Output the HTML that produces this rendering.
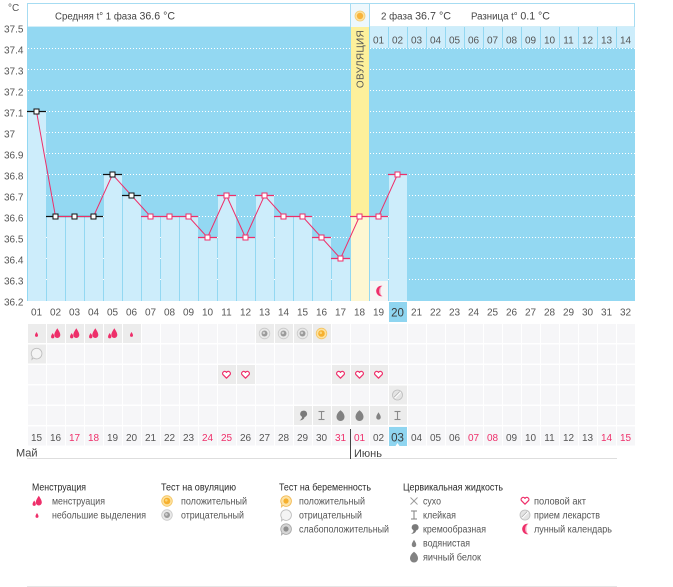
<!DOCTYPE html>
<html><head><meta charset="utf-8"><style>
html,body{margin:0;padding:0;background:#fff;}
svg{display:block;font-family:"Liberation Sans","DejaVu Sans",sans-serif;}
</style></head><body>
<svg width="673" height="587" viewBox="0 0 673 587" xmlns="http://www.w3.org/2000/svg">
<defs>
<path id="drop" d="M0,-5 C1.5,-2.5 3,-0.6 3,1.8 A3,3 0 0 1 -3,1.8 C-3,-0.6 -1.5,-2.5 0,-5Z"/>
<g id="mbig"><use href="#drop" transform="translate(1.8,-0.3) scale(1)" fill="#ee2f6a"/><use href="#drop" transform="translate(-2.8,2.2) scale(0.55)" fill="#ee2f6a"/></g>
<g id="msmall"><use href="#drop" transform="scale(0.5)" fill="#ee2f6a"/></g>
<g id="ovneg"><circle r="5.3" fill="#e9e9e9" stroke="#c9c9c9" stroke-width="0.8"/><circle r="3" fill="#9a9a9a"/><circle r="1.3" cx="-0.6" cy="-0.6" fill="#d0d0d0"/></g>
<g id="ovpos"><circle r="5.3" fill="#fde2a0" stroke="#f4c460" stroke-width="0.8"/><circle r="3.3" fill="#f6b02e"/><circle r="1.3" cx="-0.7" cy="-0.7" fill="#fbd57a"/></g>
<g id="heart"><path d="M0,3.2 L-3.6,-0.4 A1.9,1.9 0 0 1 0,-2.6 A1.9,1.9 0 0 1 3.6,-0.4 Z" fill="#fff" stroke="#ee2f6a" stroke-width="1.2" stroke-linejoin="round"/></g>
<g id="pill"><circle r="5" fill="#e4e4e4" stroke="#bdbdbd" stroke-width="0.8"/><line x1="-3" y1="3" x2="3" y2="-3" stroke="#fff" stroke-width="1.4"/><line x1="-3.4" y1="2.2" x2="2.2" y2="-3.4" stroke="#a8a8a8" stroke-width="0.7"/></g>
<g id="moon"><path d="M2.5,-5.2 A5.3,5.3 0 1 0 2.5,5.2 A4.2,5.3 0 0 1 2.5,-5.2Z" fill="#ee2f6a"/><path d="M2.5,-5.2 A4.2,5.3 0 0 0 2.5,5.2 A4,5 0 0 1 0.5,0 A4,5 0 0 1 2.5,-5.2Z" fill="#f89ab5"/></g>
<g id="comma"><path d="M0.5,-4.8 A3.2,3.2 0 1 1 2.2,1.5 Q1.5,4.5 -3,5 Q0,2.8 -0.6,1.2 A3.2,3.2 0 0 1 0.5,-4.8Z" fill="#7a7a7a"/></g>
<g id="ibeam" stroke="#8a8a8a" stroke-width="1.1" fill="none"><line x1="-3" y1="-4" x2="3" y2="-4"/><line x1="0" y1="-4" x2="0" y2="4"/><line x1="-3" y1="4" x2="3" y2="4"/></g>
<g id="gdropbig"><path d="M0,-5.3 C2.5,-3.5 4,-1 4,1.5 A4,4 0 0 1 -4,1.5 C-4,-1 -2.5,-3.5 0,-5.3Z" fill="#828282"/></g>
<g id="gdropsmall"><use href="#drop" transform="scale(0.75)" fill="#828282"/></g>
<g id="xdry" stroke="#9a9a9a" stroke-width="0.9"><line x1="-3.5" y1="-3.5" x2="3.5" y2="3.5"/><line x1="-3.5" y1="3.5" x2="3.5" y2="-3.5"/></g>
<g id="pgneg"><path d="M0,-5.2 A5.3,5.3 0 1 1 -3,4.4 L-4.5,5.8 L-4.2,3.2 A5.3,5.3 0 0 1 0,-5.2Z" fill="#f4f4f4" stroke="#bdbdbd" stroke-width="0.9"/></g>
<g id="pgpos"><path d="M0,-5.2 A5.3,5.3 0 1 1 -3,4.4 L-4.5,5.8 L-4.2,3.2 A5.3,5.3 0 0 1 0,-5.2Z" fill="#fde3a6" stroke="#f2ba55" stroke-width="0.9"/><circle r="2.6" fill="#f6b02e"/></g>
<g id="pgweak"><path d="M0,-5.2 A5.3,5.3 0 1 1 -3,4.4 L-4.5,5.8 L-4.2,3.2 A5.3,5.3 0 0 1 0,-5.2Z" fill="#d6d6d6" stroke="#a9a9a9" stroke-width="0.9"/><circle r="2.6" fill="#8f8f8f"/></g>
<pattern id="cells" patternUnits="userSpaceOnUse" x="27" y="324" width="19" height="20.5"><rect x="1" y="0" width="18" height="19" fill="#f6f6f8"/></pattern>
</defs>

<!-- header -->
<rect x="27.5" y="3.5" width="607" height="23.5" fill="#fff" stroke="#a6dcf2" stroke-width="1"/>
<rect x="351" y="4" width="18" height="23" fill="#eef8fd"/>
<line x1="350.5" y1="3.5" x2="350.5" y2="27" stroke="#a6dcf2"/>
<line x1="369.5" y1="3.5" x2="369.5" y2="27" stroke="#a6dcf2"/>
<g transform="translate(360,16)"><circle r="5" fill="#fde3a0" stroke="#f5cc72" stroke-width="0.8"/><circle r="3.2" fill="#f7b33a"/></g>
<g font-size="10" fill="#444">
<text x="55" y="19.5" textLength="120" lengthAdjust="spacingAndGlyphs">Средняя t° 1 фаза <tspan font-size="11">36.6 °C</tspan></text>
<text x="381" y="19.5" textLength="70" lengthAdjust="spacingAndGlyphs">2 фаза <tspan font-size="11">36.7 °C</tspan></text>
<text x="471" y="19.5" textLength="79" lengthAdjust="spacingAndGlyphs">Разница t° <tspan font-size="11">0.1 °C</tspan></text>
</g>

<!-- chart bg -->
<rect x="27" y="27" width="608" height="274" fill="#93d8f2"/>
<g stroke="#fff" stroke-width="1" stroke-dasharray="1 2">
<line x1="28" y1="48.5" x2="635" y2="48.5"/>
<line x1="28" y1="69.5" x2="635" y2="69.5"/>
<line x1="28" y1="90.5" x2="635" y2="90.5"/>
<line x1="28" y1="111.5" x2="635" y2="111.5"/>
<line x1="28" y1="132.5" x2="635" y2="132.5"/>
<line x1="28" y1="153.5" x2="635" y2="153.5"/>
<line x1="28" y1="174.5" x2="635" y2="174.5"/>
<line x1="28" y1="195.5" x2="635" y2="195.5"/>
<line x1="28" y1="216.5" x2="635" y2="216.5"/>
<line x1="28" y1="237.5" x2="635" y2="237.5"/>
<line x1="28" y1="258.5" x2="635" y2="258.5"/>
<line x1="28" y1="279.5" x2="635" y2="279.5"/>
</g>

<!-- phase 2 top row -->
<g fill="#cdedfb">
<rect x="370" y="27" width="18" height="21"/><rect x="389" y="27" width="18" height="21"/><rect x="408" y="27" width="18" height="21"/><rect x="427" y="27" width="18" height="21"/><rect x="446" y="27" width="18" height="21"/><rect x="465" y="27" width="18" height="21"/><rect x="484" y="27" width="18" height="21"/><rect x="503" y="27" width="18" height="21"/><rect x="522" y="27" width="18" height="21"/><rect x="541" y="27" width="18" height="21"/><rect x="560" y="27" width="18" height="21"/><rect x="579" y="27" width="18" height="21"/><rect x="598" y="27" width="18" height="21"/><rect x="617" y="27" width="18" height="21"/>
</g>
<g font-size="10" fill="#555" text-anchor="middle">
<text x="378.5" y="43.5">01</text><text x="397.5" y="43.5">02</text><text x="416.5" y="43.5">03</text><text x="435.5" y="43.5">04</text><text x="454.5" y="43.5">05</text><text x="473.5" y="43.5">06</text><text x="492.5" y="43.5">07</text><text x="511.5" y="43.5">08</text><text x="530.5" y="43.5">09</text><text x="549.5" y="43.5">10</text><text x="568.5" y="43.5">11</text><text x="587.5" y="43.5">12</text><text x="606.5" y="43.5">13</text><text x="625.5" y="43.5">14</text>
</g>

<!-- ovulation band -->
<rect x="351" y="27" width="18" height="190" fill="#fdf09b"/>
<text transform="translate(363.5,59) rotate(-90)" font-size="10" fill="#555" text-anchor="middle" letter-spacing="0.3">ОВУЛЯЦИЯ</text>

<!-- bars -->
<g fill="#cdedfb">
<rect x="28" y="111.5" width="18" height="189.5"/>
<rect x="47" y="216.5" width="18" height="84.5"/>
<rect x="66" y="216.5" width="18" height="84.5"/>
<rect x="85" y="216.5" width="18" height="84.5"/>
<rect x="104" y="174.5" width="18" height="126.5"/>
<rect x="123" y="195.5" width="18" height="105.5"/>
<rect x="142" y="216.5" width="18" height="84.5"/>
<rect x="161" y="216.5" width="18" height="84.5"/>
<rect x="180" y="216.5" width="18" height="84.5"/>
<rect x="199" y="237.5" width="18" height="63.5"/>
<rect x="218" y="195.5" width="18" height="105.5"/>
<rect x="237" y="237.5" width="18" height="63.5"/>
<rect x="256" y="195.5" width="18" height="105.5"/>
<rect x="275" y="216.5" width="18" height="84.5"/>
<rect x="294" y="216.5" width="18" height="84.5"/>
<rect x="313" y="237.5" width="18" height="63.5"/>
<rect x="332" y="258.5" width="18" height="42.5"/>
<rect x="370" y="216.5" width="18" height="84.5"/>
<rect x="389" y="174.5" width="18" height="126.5"/>
</g>
<rect x="351" y="216.5" width="18" height="84.5" fill="#fdf7d2"/>
<rect x="370" y="281" width="18" height="20" fill="#f5f5f5"/>
<use href="#moon" transform="translate(380,291)"/>

<!-- value lines -->
<g stroke="#111" stroke-width="1.2">
<line x1="27" y1="111.5" x2="46" y2="111.5"/>
<line x1="46" y1="216.5" x2="65" y2="216.5"/>
<line x1="65" y1="216.5" x2="84" y2="216.5"/>
<line x1="84" y1="216.5" x2="103" y2="216.5"/>
<line x1="103" y1="174.5" x2="122" y2="174.5"/>
<line x1="122" y1="195.5" x2="141" y2="195.5"/>
</g>
<g stroke="#ee2f6a" stroke-width="1.2">
<line x1="141" y1="216.5" x2="160" y2="216.5"/>
<line x1="160" y1="216.5" x2="179" y2="216.5"/>
<line x1="179" y1="216.5" x2="198" y2="216.5"/>
<line x1="198" y1="237.5" x2="217" y2="237.5"/>
<line x1="217" y1="195.5" x2="236" y2="195.5"/>
<line x1="236" y1="237.5" x2="255" y2="237.5"/>
<line x1="255" y1="195.5" x2="274" y2="195.5"/>
<line x1="274" y1="216.5" x2="293" y2="216.5"/>
<line x1="293" y1="216.5" x2="312" y2="216.5"/>
<line x1="312" y1="237.5" x2="331" y2="237.5"/>
<line x1="331" y1="258.5" x2="350" y2="258.5"/>
<line x1="350" y1="216.5" x2="369" y2="216.5"/>
<line x1="369" y1="216.5" x2="388" y2="216.5"/>
<line x1="388" y1="174.5" x2="407" y2="174.5"/>
</g>
<polyline fill="none" stroke="#ee2f6a" stroke-width="1" points="36.5,111.5 55.5,216.5 74.5,216.5 93.5,216.5 112.5,174.5 131.5,195.5 150.5,216.5 169.5,216.5 188.5,216.5 207.5,237.5 226.5,195.5 245.5,237.5 264.5,195.5 283.5,216.5 302.5,216.5 321.5,237.5 340.5,258.5 359.5,216.5 378.5,216.5 397.5,174.5"/>
<g fill="#fff" stroke="#111" stroke-width="1">
<rect x="34" y="109" width="5" height="5"/>
<rect x="53" y="214" width="5" height="5"/>
<rect x="72" y="214" width="5" height="5"/>
<rect x="91" y="214" width="5" height="5"/>
<rect x="110" y="172" width="5" height="5"/>
<rect x="129" y="193" width="5" height="5"/>
</g>
<g fill="#fff" stroke="#ee2f6a" stroke-width="1">
<rect x="148" y="214" width="5" height="5"/>
<rect x="167" y="214" width="5" height="5"/>
<rect x="186" y="214" width="5" height="5"/>
<rect x="205" y="235" width="5" height="5"/>
<rect x="224" y="193" width="5" height="5"/>
<rect x="243" y="235" width="5" height="5"/>
<rect x="262" y="193" width="5" height="5"/>
<rect x="281" y="214" width="5" height="5"/>
<rect x="300" y="214" width="5" height="5"/>
<rect x="319" y="235" width="5" height="5"/>
<rect x="338" y="256" width="5" height="5"/>
<rect x="357" y="214" width="5" height="5"/>
<rect x="376" y="214" width="5" height="5"/>
<rect x="395" y="172" width="5" height="5"/>
</g>

<!-- y axis -->
<g font-size="10" fill="#555">
<text x="8" y="11">°C</text>
<text x="4" y="32.5">37.5</text>
<text x="4" y="53.5">37.4</text>
<text x="4" y="74.5">37.3</text>
<text x="4" y="95.5">37.2</text>
<text x="4" y="116.5">37.1</text>
<text x="4" y="137.5">37</text>
<text x="4" y="158.5">36.9</text>
<text x="4" y="179.5">36.8</text>
<text x="4" y="200.5">36.7</text>
<text x="4" y="221.5">36.6</text>
<text x="4" y="242.5">36.5</text>
<text x="4" y="263.5">36.4</text>
<text x="4" y="284.5">36.3</text>
<text x="4" y="305.5">36.2</text>
</g>

<!-- x labels -->
<rect x="389" y="302" width="18" height="20" fill="#8fd5f0"/>
<g font-size="10" fill="#555" text-anchor="middle">
<text x="36.5" y="315.5">01</text><text x="55.5" y="315.5">02</text><text x="74.5" y="315.5">03</text><text x="93.5" y="315.5">04</text><text x="112.5" y="315.5">05</text><text x="131.5" y="315.5">06</text><text x="150.5" y="315.5">07</text><text x="169.5" y="315.5">08</text><text x="188.5" y="315.5">09</text><text x="207.5" y="315.5">10</text><text x="226.5" y="315.5">11</text><text x="245.5" y="315.5">12</text><text x="264.5" y="315.5">13</text><text x="283.5" y="315.5">14</text><text x="302.5" y="315.5">15</text><text x="321.5" y="315.5">16</text><text x="340.5" y="315.5">17</text><text x="359.5" y="315.5">18</text><text x="378.5" y="315.5">19</text><text x="397.5" y="316.5" font-size="11.5" fill="#3a3a3a">20</text><text x="416.5" y="315.5">21</text><text x="435.5" y="315.5">22</text><text x="454.5" y="315.5">23</text><text x="473.5" y="315.5">24</text><text x="492.5" y="315.5">25</text><text x="511.5" y="315.5">26</text><text x="530.5" y="315.5">27</text><text x="549.5" y="315.5">28</text><text x="568.5" y="315.5">29</text><text x="587.5" y="315.5">30</text><text x="606.5" y="315.5">31</text><text x="625.5" y="315.5">32</text>
</g>

<!-- icon grid -->
<rect x="27" y="324" width="608" height="122" fill="url(#cells)"/>
<g fill="#ececec">
<rect x="28" y="324" width="18" height="19"/><rect x="47" y="324" width="18" height="19"/><rect x="66" y="324" width="18" height="19"/><rect x="85" y="324" width="18" height="19"/><rect x="104" y="324" width="18" height="19"/><rect x="123" y="324" width="18" height="19"/>
<rect x="256" y="324" width="18" height="19"/><rect x="275" y="324" width="18" height="19"/><rect x="294" y="324" width="18" height="19"/><rect x="313" y="324" width="18" height="19"/>
<rect x="28" y="344.5" width="18" height="19"/>
<rect x="218" y="365" width="18" height="19"/><rect x="237" y="365" width="18" height="19"/><rect x="332" y="365" width="18" height="19"/><rect x="351" y="365" width="18" height="19"/><rect x="370" y="365" width="18" height="19"/>
<rect x="389" y="385.5" width="18" height="19"/>
<rect x="294" y="406" width="18" height="19"/><rect x="313" y="406" width="18" height="19"/><rect x="332" y="406" width="18" height="19"/><rect x="351" y="406" width="18" height="19"/><rect x="370" y="406" width="18" height="19"/><rect x="389" y="406" width="18" height="19"/>
</g>
<use href="#msmall" transform="translate(36.5,334.5)"/>
<use href="#mbig" transform="translate(55.5,333.5)"/>
<use href="#mbig" transform="translate(74.5,333.5)"/>
<use href="#mbig" transform="translate(93.5,333.5)"/>
<use href="#mbig" transform="translate(112.5,333.5)"/>
<use href="#msmall" transform="translate(131.5,334.5)"/>
<use href="#ovneg" transform="translate(264.5,333.5)"/>
<use href="#ovneg" transform="translate(283.5,333.5)"/>
<use href="#ovneg" transform="translate(302.5,333.5)"/>
<use href="#ovpos" transform="translate(321.5,333.5)"/>
<use href="#pgneg" transform="translate(36.5,353.5)"/>
<use href="#heart" transform="translate(226.5,375)"/>
<use href="#heart" transform="translate(245.5,375)"/>
<use href="#heart" transform="translate(340.5,375)"/>
<use href="#heart" transform="translate(359.5,375)"/>
<use href="#heart" transform="translate(378.5,375)"/>
<use href="#pill" transform="translate(397.5,395)"/>
<use href="#comma" transform="translate(302.5,415.5)"/>
<use href="#ibeam" transform="translate(321.5,415.5)"/>
<use href="#gdropbig" transform="translate(340.5,415.5)"/>
<use href="#gdropbig" transform="translate(359.5,415.5)"/>
<use href="#gdropsmall" transform="translate(378.5,416)"/>
<use href="#ibeam" transform="translate(397.5,415.5)"/>

<!-- dates -->
<rect x="389" y="427" width="18" height="19" fill="#8fd5f0"/>
<path d="M397.5,443 L395.5,446 L399.5,446Z" fill="#fff"/>
<g font-size="10" fill="#555" text-anchor="middle">
<text x="36.5" y="441">15</text><text x="55.5" y="441">16</text><text x="74.5" y="441" fill="#ee2f6a">17</text><text x="93.5" y="441" fill="#ee2f6a">18</text><text x="112.5" y="441">19</text><text x="131.5" y="441">20</text><text x="150.5" y="441">21</text><text x="169.5" y="441">22</text><text x="188.5" y="441">23</text><text x="207.5" y="441" fill="#ee2f6a">24</text><text x="226.5" y="441" fill="#ee2f6a">25</text><text x="245.5" y="441">26</text><text x="264.5" y="441">27</text><text x="283.5" y="441">28</text><text x="302.5" y="441">29</text><text x="321.5" y="441">30</text><text x="340.5" y="441" fill="#ee2f6a">31</text><text x="359.5" y="441" fill="#ee2f6a">01</text><text x="378.5" y="441">02</text><text x="397.5" y="441.5" font-size="11.5" fill="#3a3a3a">03</text><text x="416.5" y="441">04</text><text x="435.5" y="441">05</text><text x="454.5" y="441">06</text><text x="473.5" y="441" fill="#ee2f6a">07</text><text x="492.5" y="441" fill="#ee2f6a">08</text><text x="511.5" y="441">09</text><text x="530.5" y="441">10</text><text x="549.5" y="441">11</text><text x="568.5" y="441">12</text><text x="587.5" y="441">13</text><text x="606.5" y="441" fill="#ee2f6a">14</text><text x="625.5" y="441" fill="#ee2f6a">15</text>
</g>
<line x1="27" y1="458.5" x2="617" y2="458.5" stroke="#dedede"/>
<line x1="350.5" y1="429" x2="350.5" y2="459" stroke="#444"/>
<g font-size="11" fill="#444">
<text x="16" y="456.5">Май</text>
<text x="354" y="457">Июнь</text>
</g>

<!-- legend -->
<g font-size="10" fill="#2a2a2a" lengthAdjust="spacingAndGlyphs">
<text x="32" y="490.5" textLength="54" lengthAdjust="spacingAndGlyphs">Менструация</text>
<text x="161" y="490.5" textLength="75" lengthAdjust="spacingAndGlyphs">Тест на овуляцию</text>
<text x="279" y="490.5" textLength="92" lengthAdjust="spacingAndGlyphs">Тест на беременность</text>
<text x="403" y="490.5" textLength="100" lengthAdjust="spacingAndGlyphs">Цервикальная жидкость</text>
</g>
<g font-size="10" fill="#555">
<text x="52" y="504.5" textLength="53" lengthAdjust="spacingAndGlyphs">менструация</text>
<text x="52" y="518.5" textLength="94" lengthAdjust="spacingAndGlyphs">небольшие выделения</text>
<text x="181" y="504.5" textLength="66" lengthAdjust="spacingAndGlyphs">положительный</text>
<text x="181" y="518.5" textLength="63" lengthAdjust="spacingAndGlyphs">отрицательный</text>
<text x="299" y="504.5" textLength="66" lengthAdjust="spacingAndGlyphs">положительный</text>
<text x="299" y="518.5" textLength="63" lengthAdjust="spacingAndGlyphs">отрицательный</text>
<text x="299" y="532.5" textLength="90" lengthAdjust="spacingAndGlyphs">слабоположительный</text>
<text x="423" y="504.5" textLength="18" lengthAdjust="spacingAndGlyphs">сухо</text>
<text x="423" y="518.5" textLength="33" lengthAdjust="spacingAndGlyphs">клейкая</text>
<text x="423" y="532.5" textLength="63" lengthAdjust="spacingAndGlyphs">кремообразная</text>
<text x="423" y="546.5" textLength="47" lengthAdjust="spacingAndGlyphs">водянистая</text>
<text x="423" y="560.5" textLength="58" lengthAdjust="spacingAndGlyphs">яичный белок</text>
<text x="534" y="504.5" textLength="52" lengthAdjust="spacingAndGlyphs">половой акт</text>
<text x="534" y="518.5" textLength="66" lengthAdjust="spacingAndGlyphs">прием лекарств</text>
<text x="534" y="532.5" textLength="78" lengthAdjust="spacingAndGlyphs">лунный календарь</text>
</g>
<use href="#mbig" transform="translate(37,501)"/>
<use href="#msmall" transform="translate(37,515.5)"/>
<use href="#ovpos" transform="translate(167,501)"/>
<use href="#ovneg" transform="translate(167,515)"/>
<use href="#pgpos" transform="translate(286,501)"/>
<use href="#pgneg" transform="translate(286,515)"/>
<use href="#pgweak" transform="translate(286,529)"/>
<use href="#xdry" transform="translate(414,501)"/>
<use href="#ibeam" transform="translate(414,515)"/>
<use href="#comma" transform="translate(414,529)"/>
<use href="#gdropsmall" transform="translate(414,543.5)"/>
<use href="#gdropbig" transform="translate(414,557)"/>
<use href="#heart" transform="translate(525,501)"/>
<use href="#pill" transform="translate(525,515)"/>
<use href="#moon" transform="translate(526,529)"/>
<line x1="27" y1="586.5" x2="617" y2="586.5" stroke="#e6e6e6"/>
</svg>
</body></html>
